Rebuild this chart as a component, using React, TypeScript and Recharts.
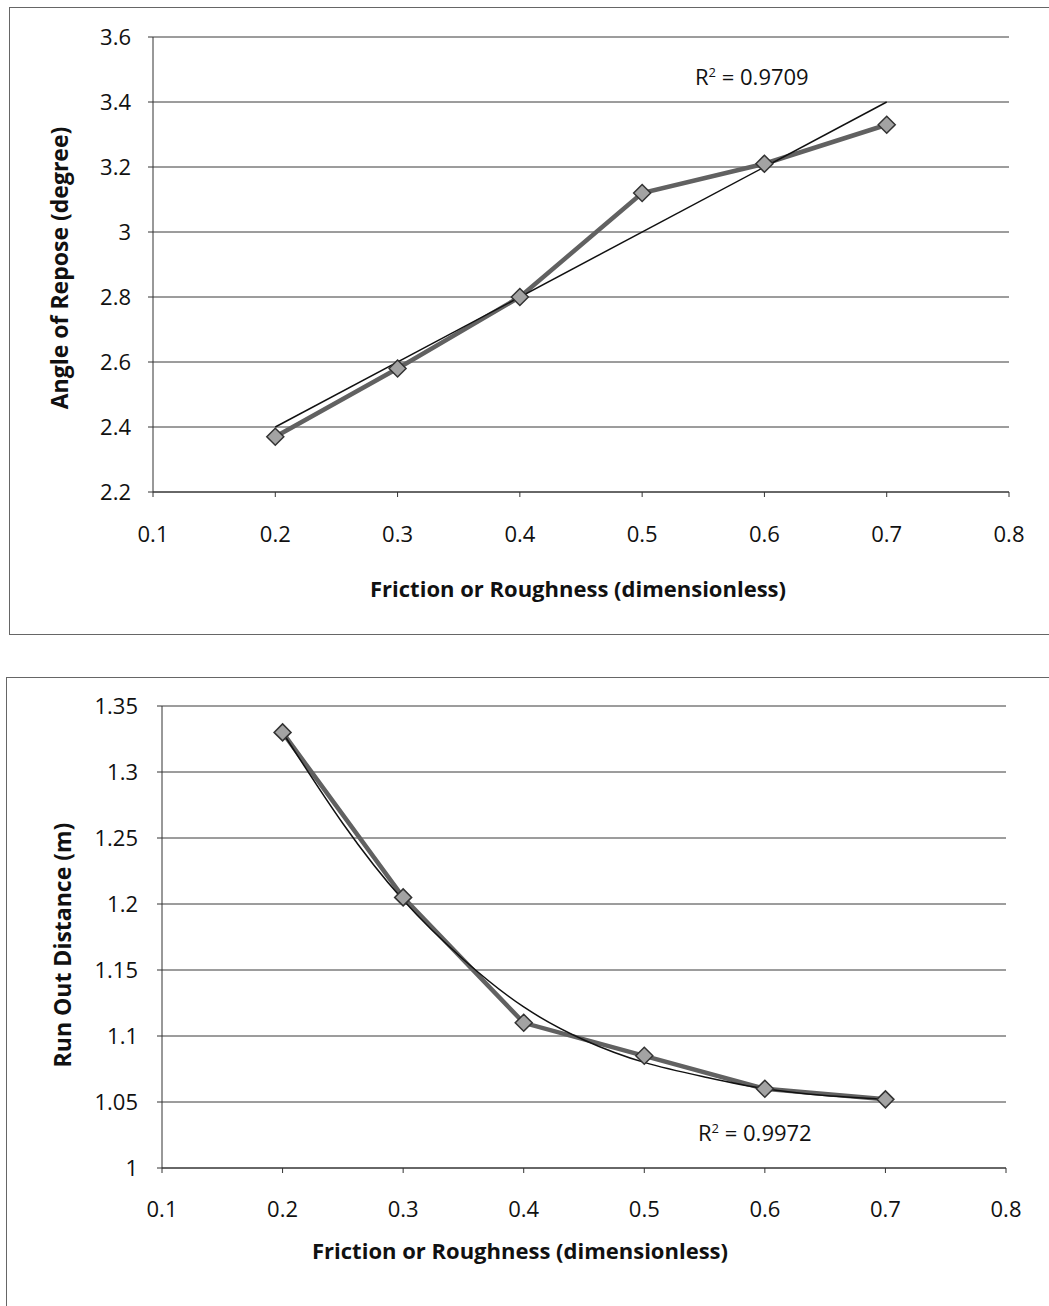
import React from "react";
import { LineChart, Line, XAxis, YAxis, CartesianGrid } from "recharts";

// friction / roughness values shared by both charts
const frictionValues = [0.2, 0.3, 0.4, 0.5, 0.6, 0.7];
const xTicks = [0.1, 0.2, 0.3, 0.4, 0.5, 0.6, 0.7, 0.8];

// top chart: angle of repose
const reposeAngles = [2.37, 2.58, 2.8, 3.12, 3.21, 3.33];
const reposeTrendX = [0.2, 0.7];
const reposeTrendY = [2.4, 3.4];
const reposeTicks = [2.2, 2.4, 2.6, 2.8, 3, 3.2, 3.4, 3.6];

// bottom chart: run out distance
const runOutDistances = [1.33, 1.205, 1.11, 1.085, 1.06, 1.052];
const runOutTrendX = [0.2, 0.25, 0.3, 0.35, 0.4, 0.45, 0.5, 0.55, 0.6, 0.65, 0.7];
const runOutTrendY = [1.33, 1.261, 1.203, 1.158, 1.122, 1.097, 1.08, 1.069, 1.06, 1.055, 1.052];
const runOutTicks = [1, 1.05, 1.1, 1.15, 1.2, 1.25, 1.3, 1.35];

const font = "'Open Sans', 'Noto Sans', sans-serif";
const axisColor = "#333";

const toPoints = (xs: number[], ys: number[]) => xs.map((x, i) => ({ x, y: ys[i] }));

const reposeData = toPoints(frictionValues, reposeAngles);
const reposeTrend = toPoints(reposeTrendX, reposeTrendY);
const runOutData = toPoints(frictionValues, runOutDistances);
const runOutTrend = toPoints(runOutTrendX, runOutTrendY);

function Diamond(props: any) {
  const { cx, cy } = props;
  if (cx == null || cy == null) return null;
  const r = 8.5;
  return (
    <path
      d={`M${cx},${cy - r}L${cx + r},${cy}L${cx},${cy + r}L${cx - r},${cy}Z`}
      fill="#a3a3a3"
      stroke="#333"
      strokeWidth={1.5}
    />
  );
}

interface PanelProps {
  data: { x: number; y: number }[];
  trend: { x: number; y: number }[];
  yTicks: number[];
  left: number;
  right: number;
  top: number;
  bottom: number;
  xTickMargin: number;
  yTickMargin: number;
}

function Panel({ data, trend, yTicks, left, right, top, bottom, xTickMargin, yTickMargin }: PanelProps) {
  return (
    <LineChart
      width={1049}
      height={640}
      margin={{ top, right, left: 0, bottom }}
    >
      <CartesianGrid vertical={false} stroke="#3a3a3a" strokeWidth={1} />
      <XAxis
        type="number"
        dataKey="x"
        domain={[0.1, 0.8]}
        ticks={xTicks}
        allowDataOverflow
        height={40}
        stroke={axisColor}
        tickSize={5}
        tickMargin={xTickMargin}
        tick={{ fontSize: 22, fill: "#111", fontFamily: font }}
      />
      <YAxis
        type="number"
        dataKey="y"
        domain={[yTicks[0], yTicks[yTicks.length - 1]]}
        ticks={yTicks}
        width={left}
        stroke={axisColor}
        tickSize={5}
        tickMargin={yTickMargin}
        tick={{ fontSize: 22, fill: "#111", fontFamily: font }}
      />
      <Line
        data={data}
        dataKey="y"
        type="linear"
        stroke="#616161"
        strokeWidth={4.5}
        dot={<Diamond />}
        activeDot={false}
        isAnimationActive={false}
      />
      <Line
        data={trend}
        dataKey="y"
        type="natural"
        stroke="#111"
        strokeWidth={1.5}
        dot={false}
        activeDot={false}
        isAnimationActive={false}
      />
    </LineChart>
  );
}

const titleStyle: React.CSSProperties = {
  position: "absolute",
  fontFamily: font,
  fontWeight: 700,
  fontSize: 22,
  color: "#111",
  whiteSpace: "nowrap",
};

const r2Style: React.CSSProperties = {
  position: "absolute",
  fontFamily: font,
  fontSize: 22,
  color: "#111",
  whiteSpace: "nowrap",
};

export default function App() {
  return (
    <div
      style={{
        position: "absolute",
        left: 0,
        top: 0,
        width: 1049,
        height: 1306,
        overflow: "hidden",
        background: "#fff",
      }}
    >
      {/* chart frames */}
      <div style={{ position: "absolute", left: 9, top: 7, width: 1100, height: 626, border: "1px solid #666" }} />
      <div style={{ position: "absolute", left: 6, top: 677, width: 1100, height: 700, border: "1px solid #666" }} />

      <div style={{ position: "absolute", left: 0, top: 0 }}>
        <Panel
          data={reposeData}
          trend={reposeTrend}
          yTicks={reposeTicks}
          left={153}
          right={40}
          top={37}
          bottom={108}
          xTickMargin={29}
          yTickMargin={17}
        />
      </div>
      <div style={{ ...r2Style, left: 695, top: 61 }}>
        R<sup style={{ fontSize: 13 }}>2</sup> = 0.9709
      </div>
      <div style={{ ...titleStyle, left: 578, top: 588, transform: "translate(-50%, -50%)" }}>
        Friction or Roughness (dimensionless)
      </div>
      <div style={{ ...titleStyle, fontSize: 23, left: 59, top: 268, transform: "translate(-50%, -50%) rotate(-90deg)" }}>
        Angle of Repose (degree)
      </div>

      <div style={{ position: "absolute", left: 0, top: 660 }}>
        <Panel
          data={runOutData}
          trend={runOutTrend}
          yTicks={runOutTicks}
          left={162}
          right={43}
          top={46}
          bottom={92}
          xTickMargin={28}
          yTickMargin={19}
        />
      </div>
      <div style={{ ...r2Style, left: 698, top: 1117 }}>
        R<sup style={{ fontSize: 13 }}>2</sup> = 0.9972
      </div>
      <div style={{ ...titleStyle, left: 520, top: 1250, transform: "translate(-50%, -50%)" }}>
        Friction or Roughness (dimensionless)
      </div>
      <div style={{ ...titleStyle, fontSize: 23, left: 62, top: 945, transform: "translate(-50%, -50%) rotate(-90deg)" }}>
        Run Out Distance (m)
      </div>
    </div>
  );
}
